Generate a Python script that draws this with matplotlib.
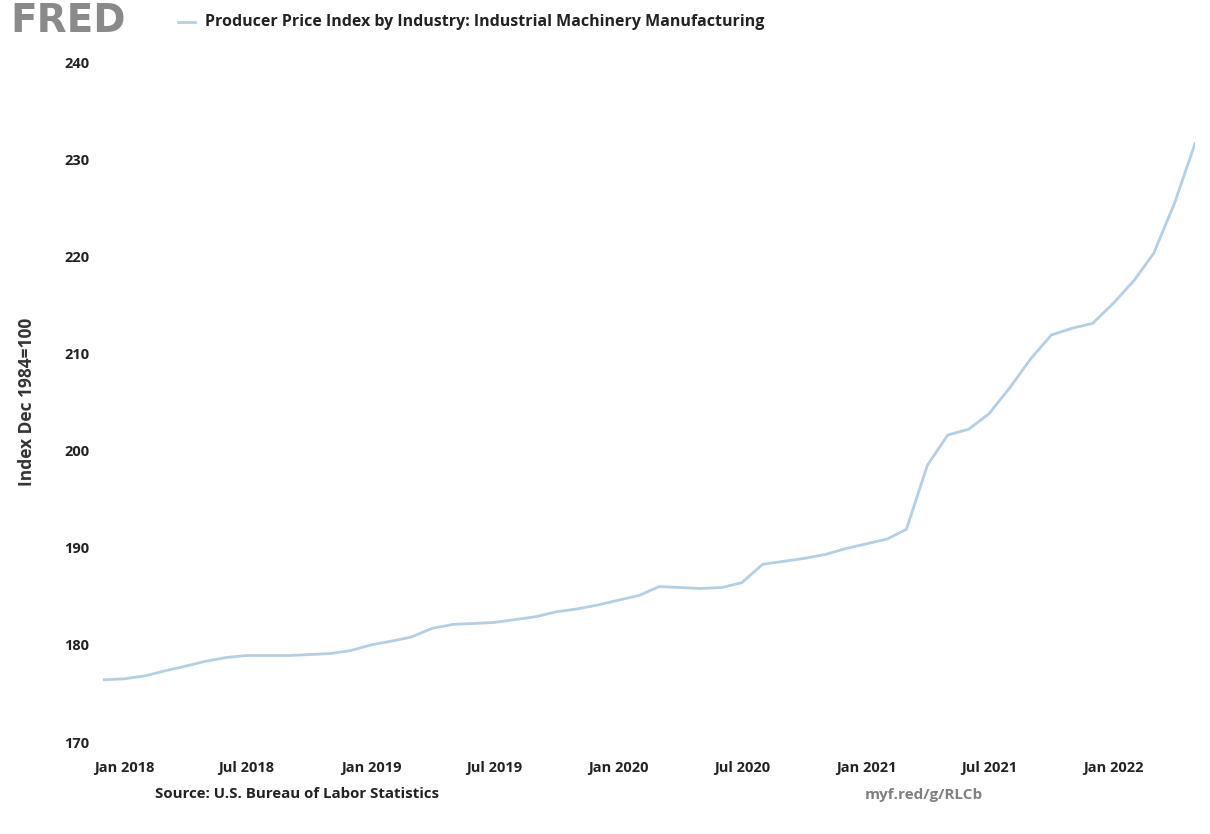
import matplotlib
matplotlib.use("Agg")
import matplotlib.pyplot as plt
import matplotlib.dates as mdates
import pandas as pd

# ---- data ----
start_month = "2017-12-01"
values = [176.4, 176.5, 176.8, 177.3, 177.8, 178.3, 178.7, 178.9, 178.9, 178.9,
          179.0, 179.1, 179.4, 180.0, 180.4, 180.8, 181.7, 182.1, 182.2, 182.3,
          182.6, 182.9, 183.4, 183.7, 184.1, 184.6, 185.1, 186.0, 185.9, 185.8,
          185.9, 186.4, 188.3, 188.6, 188.9, 189.3, 189.9, 190.4, 190.9, 191.9,
          198.5, 201.6, 202.2, 203.8, 206.5, 209.5, 211.9, 212.6, 213.1, 215.2,
          217.6, 220.3, 225.5, 231.6]
dates = pd.date_range(start_month, periods=len(values), freq="MS")
y_ticks = [170, 180, 190, 200, 210, 220, 230, 240]
x_tick_dates = pd.to_datetime(["2018-01-01", "2018-07-01", "2019-01-01", "2019-07-01",
                               "2020-01-01", "2020-07-01", "2021-01-01", "2021-07-01",
                               "2022-01-01"])
series_name = "Producer Price Index by Industry: Industrial Machinery Manufacturing"
y_label = "Index Dec 1984=100"
source_text = "Source: U.S. Bureau of Labor Statistics"
link_text = "myf.red/g/RLCb"

plt.rcParams['font.family'] = ['Open Sans', 'DejaVu Sans']

fig = plt.figure(figsize=(12.10, 8.34), dpi=100)
ax = fig.add_axes([103/1210, 1 - 742/834, (1195 - 103)/1210, (742 - 62)/834])

line_color = "#b3cfe5"
ax.plot(dates, values, color=line_color, linewidth=2.0, solid_joinstyle="round")

ax.set_ylim(170, 240)
ax.set_yticks(y_ticks)
ax.set_yticklabels([str(v) for v in y_ticks])
ax.set_xlim(dates[0], dates[-1])
ax.set_xticks(x_tick_dates)
ax.xaxis.set_major_formatter(mdates.DateFormatter("%b %Y"))

for s in ax.spines.values():
    s.set_visible(False)
ax.tick_params(axis="both", length=0, labelsize=10.5, colors="#222222")
for lbl in ax.get_xticklabels() + ax.get_yticklabels():
    lbl.set_fontweight("bold")
ax.tick_params(axis="y", pad=10)
ax.tick_params(axis="x", pad=14)
ax.set_ylabel(y_label, fontsize=12.5, fontweight="bold", color="#333333", labelpad=20)

# header
fig.text(10/1210, 1 - 21/834, "FRED", fontsize=28, fontweight="bold", color="#8a8a8a",
         va="center", ha="left", family=["DejaVu Sans"])
fig.add_artist(plt.Line2D([178/1210, 195/1210], [1 - 22/834, 1 - 22/834],
                          color=line_color, linewidth=2.0))
fig.text(205/1210, 1 - 22/834, series_name, fontsize=11.5, fontweight="bold",
         color="#222222", va="center", ha="left")

# footer
fig.text(155/1210, 1 - 794/834, source_text, fontsize=10.8, fontweight="bold",
         color="#222222", va="center", ha="left")
fig.text(865/1210, 1 - 795/834, link_text, fontsize=11, fontweight="bold",
         color="#808080", va="center", ha="left")

fig.savefig("out.png", dpi=100, facecolor="white")
